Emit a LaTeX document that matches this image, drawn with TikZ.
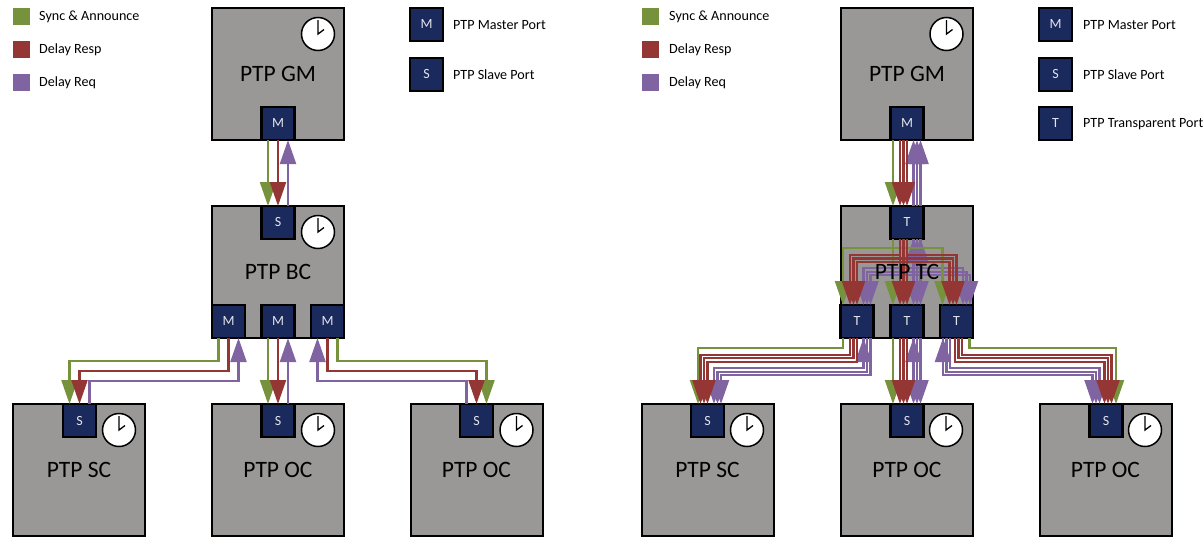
\documentclass[tikz,border=0pt]{standalone}
\usepackage{fontspec}
\setmainfont{Carlito}
\usetikzlibrary{arrows.meta}
\definecolor{SyncGreen}{RGB}{118, 146, 60}
\definecolor{RespRed}{RGB}{148, 54, 52}
\definecolor{ReqPurple}{RGB}{128, 100, 162}
\definecolor{PortNavy}{RGB}{27, 42, 92}
\definecolor{BoxGray}{RGB}{153, 152, 151}
\newcommand{\ptpclock}[2]{%
    \node[clockface] (#1) at #2 {};
    \draw[clockhand] ([yshift=14pt]#1.center) -- (#1.center) -- ([shift={(6pt,4.5pt)}]#1.center);
}
\begin{document}
\begin{tikzpicture}[
    x=1pt, y=-1pt,
    device/.style={draw=black, line width=2pt, fill=BoxGray, minimum size=132pt, inner sep=0pt, outer sep=0pt, font=\fontsize{23.5}{25}\selectfont},
    port/.style={draw=black, line width=2.4pt, fill=PortNavy, minimum size=33pt, inner sep=0pt, outer sep=0pt, text=white!88!PortNavy, font=\fontsize{14}{16}\selectfont},
    clockface/.style={circle, draw=black, line width=1.5pt, fill=white, minimum size=33pt, inner sep=0pt, outer sep=0pt},
    clockhand/.style={line width=1.3pt, black},
    swatch/.style={minimum size=17pt, inner sep=0pt, outer sep=0pt},
    legendtext/.style={anchor=west, inner sep=0pt, font=\fontsize{14.1}{16}\selectfont},
    syncline/.style={SyncGreen, line width=2.2pt},
    respline/.style={RespRed, line width=2.2pt},
    reqline/.style={ReqPurple, line width=2.2pt},
    tipend/.style={-{Triangle[length=24pt,width=16pt]}},
    tipstart/.style={{Triangle[length=24pt,width=16pt]}-},
    tipboth/.style={{Triangle[length=24pt,width=16pt]}-{Triangle[length=24pt,width=16pt]}}
]
    \useasboundingbox (0,0) rectangle (1203,536);

    % left legend
    \node[swatch, fill=SyncGreen] (lsync) at (21.5,16.5) {};
    \node[swatch, fill=RespRed] (lresp) at (21.5,49.5) {};
    \node[swatch, fill=ReqPurple] (lreq) at (21.5,82.5) {};
    \node[legendtext] (lsynctxt) at (39,17) {Sync \& Announce};
    \node[legendtext] (lresptxt) at (39,50) {Delay Resp};
    \node[legendtext] (lreqtxt) at (39,83) {Delay Req};
    \node[port] (lkeym) at (426.5,24.5) {M};
    \node[port] (lkeys) at (426.5,74.5) {S};
    \node[legendtext] (lkeymtxt) at (453,25.5) {PTP Master Port};
    \node[legendtext] (lkeystxt) at (453,75) {PTP Slave Port};

    % left devices
    \node[device] (gma) at (278,74) {PTP GM};
    \node[device] (bc) at (278,272) {PTP BC};
    \node[device] (sca) at (79,470) {PTP SC};
    \node[device] (oca) at (278,470) {PTP OC};
    \node[device] (ocb) at (476.5,470) {PTP OC};
    \node[port] (gmam) at (278,123.5) {M};
    \node[port] (bcs) at (278,222.5) {S};
    \node[port] (bcma) at (228.5,321.5) {M};
    \node[port] (bcmb) at (278,321.5) {M};
    \node[port] (bcmc) at (327.5,321.5) {M};
    \node[port] (scas) at (79.5,420.5) {S};
    \node[port] (ocas) at (278,420.5) {S};
    \node[port] (ocbs) at (476.5,420.5) {S};
    \ptpclock{clkgma}{(318,34)}
    \ptpclock{clkbc}{(318,232)}
    \ptpclock{clksca}{(119,430)}
    \ptpclock{clkoca}{(318,430)}
    \ptpclock{clkocb}{(516.5,430)}

    % left connectors
    \draw[reqline, tipstart] ([xshift=10pt]gmam.south) -- ([xshift=10pt]bcs.north);
    \draw[syncline, tipend] ([xshift=-10pt]gmam.south) -- ([xshift=-10pt]bcs.north);
    \draw[respline, tipend] (gmam.south) -- (bcs.north);

    \draw[reqline, tipstart] ([xshift=10pt]bcma.south) -- ++(0,43) -| ([xshift=10pt]scas.north);
    \draw[syncline, tipend] ([xshift=-10pt]bcma.south) -- ++(0,23) -| ([xshift=-10pt]scas.north);
    \draw[respline, tipend] (bcma.south) -- ++(0,33) -| (scas.north);

    \draw[reqline, tipstart] ([xshift=10pt]bcmb.south) -- ([xshift=10pt]ocas.north);
    \draw[syncline, tipend] ([xshift=-10pt]bcmb.south) -- ([xshift=-10pt]ocas.north);
    \draw[respline, tipend] (bcmb.south) -- (ocas.north);

    \draw[reqline, tipstart] ([xshift=-10pt]bcmc.south) -- ++(0,43) -| ([xshift=-10pt]ocbs.north);
    \draw[syncline, tipend] ([xshift=10pt]bcmc.south) -- ++(0,23) -| ([xshift=10pt]ocbs.north);
    \draw[respline, tipend] (bcmc.south) -- ++(0,33) -| (ocbs.north);

    % right legend
    \node[swatch, fill=SyncGreen] (rsync) at (650.5,16.5) {};
    \node[swatch, fill=RespRed] (rresp) at (650.5,49.5) {};
    \node[swatch, fill=ReqPurple] (rreq) at (650.5,82.5) {};
    \node[legendtext] (rsynctxt) at (669,17) {Sync \& Announce};
    \node[legendtext] (rresptxt) at (669,50) {Delay Resp};
    \node[legendtext] (rreqtxt) at (669,83) {Delay Req};
    \node[port] (rkeym) at (1055.5,24.5) {M};
    \node[port] (rkeys) at (1055.5,74.5) {S};
    \node[port] (rkeyt) at (1055.5,123.5) {T};
    \node[legendtext] (rkeymtxt) at (1083,25.5) {PTP Master Port};
    \node[legendtext] (rkeystxt) at (1083,75) {PTP Slave Port};
    \node[legendtext] (rkeyttxt) at (1083,124.5) {PTP Transparent Port};

    % right devices
    \node[device] (gmb) at (907,74) {PTP GM};
    \node[device] (tc) at (907,272) {};
    \node[device] (scb) at (707.5,470) {PTP SC};
    \node[device] (occ) at (907,470) {PTP OC};
    \node[device] (ocd) at (1105.5,470) {PTP OC};
    \node[port] (gmbm) at (907,123.5) {M};
    \node[port] (tct) at (907,222.5) {T};
    \node[port] (tca) at (857,321.5) {T};
    \node[port] (tcb) at (907,321.5) {T};
    \node[port] (tcc) at (956.5,321.5) {T};
    \node[port] (scbs) at (707.5,420.5) {S};
    \node[port] (occs) at (907,420.5) {S};
    \node[port] (ocds) at (1106,420.5) {S};
    \ptpclock{clkgmb}{(946.5,34)}
    \ptpclock{clkscb}{(747,430)}
    \ptpclock{clkocc}{(946,430)}
    \ptpclock{clkocd}{(1145,430)}

    % right connectors, grandmaster to upper port
    \foreach \dx in {6.5,10,13.5}
        \draw[reqline, tipstart] ([xshift=\dx pt]gmbm.south) -- ([xshift=\dx pt]tct.north);
    \draw[syncline, tipend] ([xshift=-14pt]gmbm.south) -- ([xshift=-14pt]tct.north);
    \foreach \dx in {-7,-3.5,0}
        \draw[respline, tipend] ([xshift=\dx pt]gmbm.south) -- ([xshift=\dx pt]tct.north);

    % inside the TC
    \foreach \dx/\dy in {6.5/29,10/32.7,13.5/36}
        \draw[reqline, tipboth] ([xshift=\dx pt]tct.south) -- ++(0,\dy) -| ([xshift=\dx pt]tca.north);
    \foreach \dx/\dy in {6.5/29,10/32.7,13.5/36}
        \draw[reqline, tipboth] ([xshift=\dx pt]tct.south) -- ++(0,\dy) -| ([xshift=\dx pt]tcc.north);
    \foreach \dx in {6.5,10,13.5}
        \draw[reqline, tipend] ([xshift=\dx pt]tct.south) -- ([xshift=\dx pt]tcb.north);
    \draw[syncline, tipend] ([xshift=-14pt]tct.south) -- ++(0,9) -| ([xshift=-14pt]tca.north);
    \draw[syncline, tipend] ([xshift=-14pt]tct.south) -- ++(0,9) -| ([xshift=-14pt]tcc.north);
    \draw[syncline, tipend] ([xshift=-14pt]tct.south) -- ([xshift=-14pt]tcb.north);
    \foreach \dx/\dy in {-7/16,-3.5/19.5,0/23}
        \draw[respline, tipend] ([xshift=\dx pt]tct.south) -- ++(0,\dy) -| ([xshift=\dx pt]tca.north);
    \foreach \dx/\dy in {-7/23,-3.5/19.5,0/16}
        \draw[respline, tipend] ([xshift=\dx pt]tct.south) -- ++(0,\dy) -| ([xshift=\dx pt]tcc.north);
    \foreach \dx in {-7,-3.5,0}
        \draw[respline, tipend] ([xshift=\dx pt]tct.south) -- ([xshift=\dx pt]tcb.north);

    % lower ports to the clocks
    \foreach \dx/\dy in {6.5/30.3,10/33.7,13.5/37}
        \draw[reqline, tipend] ([xshift=\dx pt]tca.south) -- ++(0,\dy) -| ([xshift=\dx pt]scbs.north);
    \draw[reqline, tipstart] ([xshift=6.5pt]tca.south) -- ++(0,20);
    \draw[syncline, tipend] ([xshift=-14pt]tca.south) -- ++(0,10) -| ([xshift=-9.5pt]scbs.north);
    \foreach \dx/\dy in {-7/17,-3.5/20.3,0/23.7}
        \draw[respline, tipend] ([xshift=\dx pt]tca.south) -- ++(0,\dy) -| ([xshift=\dx pt]scbs.north);

    \foreach \dx in {6.5,10,13.5}
        \draw[reqline, tipend] ([xshift=\dx pt]tcb.south) -- ([xshift=\dx pt]occs.north);
    \draw[reqline, tipstart] ([xshift=6.5pt]tcb.south) -- ++(0,20);
    \draw[syncline, tipend] ([xshift=-14pt]tcb.south) -- ([xshift=-14pt]occs.north);
    \foreach \dx in {-7,-3.5,0}
        \draw[respline, tipend] ([xshift=\dx pt]tcb.south) -- ([xshift=\dx pt]occs.north);

    \foreach \dx/\dy in {-13.5/37,-10/33.7,-6.5/30.3}
        \draw[reqline, tipend] ([xshift=\dx pt]tcc.south) -- ++(0,\dy) -| ([xshift=\dx pt]ocds.north);
    \draw[reqline, tipstart] ([xshift=-13.5pt]tcc.south) -- ++(0,20);
    \draw[syncline, tipend] ([xshift=13pt]tcc.south) -- ++(0,10) -| ([xshift=10pt]ocds.north);
    \foreach \dx/\dy in {-1.5/23.7,2/20.3,5.5/17}
        \draw[respline, tipend] ([xshift=\dx pt]tcc.south) -- ++(0,\dy) -| ([xshift=\dx pt]ocds.north);

    \node[font=\fontsize{23.5}{25}\selectfont] (tclabel) at (tc.center) {PTP TC};
\end{tikzpicture}
\end{document}
